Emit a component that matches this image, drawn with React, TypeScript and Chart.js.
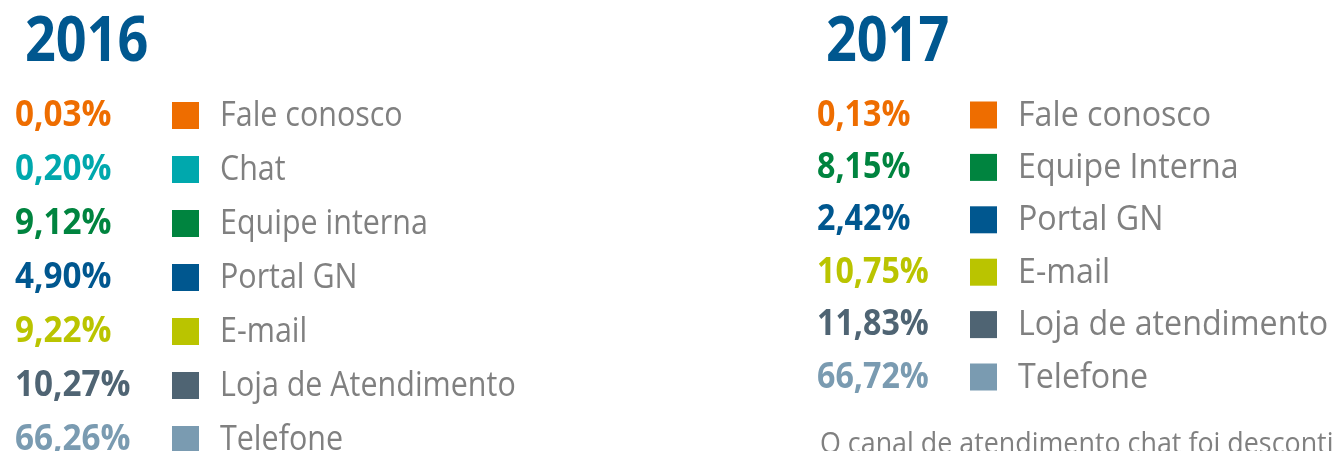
import React, { useEffect, useRef } from "react";
import { Chart, registerables } from "chart.js";

Chart.register(...registerables);

// ---- data ----
const categories2016 = ["Fale conosco", "Chat", "Equipe interna", "Portal GN", "E-mail", "Loja de Atendimento", "Telefone"];
const values2016 = [0.03, 0.2, 9.12, 4.9, 9.22, 10.27, 66.26];
const colors2016 = ["#EE6D00", "#00A8AD", "#00843F", "#00578F", "#BAC400", "#4F6473", "#7A9BB1"];

const categories2017 = ["Fale conosco", "Equipe Interna", "Portal GN", "E-mail", "Loja de atendimento", "Telefone"];
const values2017 = [0.13, 8.15, 2.42, 10.75, 11.83, 66.72];
const colors2017 = ["#EE6D00", "#00843F", "#00578F", "#BAC400", "#4F6473", "#7A9BB1"];

const title2016 = "2016";
const title2017 = "2017";
const note2017 = "O canal de atendimento chat foi descontinuado em 2017.";

const FONT = "'Open Sans', 'Noto Sans', sans-serif";

const fmt = (v: number) => v.toFixed(2).replace(".", ",") + "%";

function drawScaled(ctx: CanvasRenderingContext2D, text: string, x: number, y: number, sx: number) {
  ctx.save();
  ctx.translate(x, y);
  ctx.scale(sx, 1);
  ctx.fillText(text, 0, 0);
  ctx.restore();
}

const legendTablePlugin = {
  id: "legendTable",
  afterDraw(chart: any, _args: any, opts: any) {
    const ctx: CanvasRenderingContext2D = chart.ctx;
    const labels: string[] = chart.data.labels;
    const ds = chart.data.datasets[0];
    const values: number[] = ds.data;
    const colors: string[] = ds.backgroundColor;
    ctx.save();
    ctx.textBaseline = "alphabetic";
    ctx.textAlign = "left";
    // title
    ctx.fillStyle = opts.titleColor;
    ctx.font = `700 ${opts.titleSize}px ${FONT}`;
    drawScaled(ctx, opts.title, opts.titleX, opts.titleBaseline, opts.titleScale);
    // rows
    labels.forEach((lab, i) => {
      const c = opts.rowStart + i * opts.rowStep;
      ctx.fillStyle = colors[i];
      ctx.font = `700 ${opts.pctSize}px ${FONT}`;
      drawScaled(ctx, fmt(values[i]), opts.pctX, c + opts.baseOffset, opts.pctScale);
      ctx.fillRect(opts.boxX, c - opts.boxSize / 2, opts.boxSize, opts.boxSize);
      ctx.fillStyle = opts.labelColor;
      ctx.font = `400 ${opts.labelSize}px ${FONT}`;
      drawScaled(ctx, lab, opts.labelX, c + opts.baseOffset, opts.labelScale);
    });
    if (opts.note) {
      ctx.fillStyle = opts.labelColor;
      ctx.font = `400 ${opts.noteSize}px ${FONT}`;
      drawScaled(ctx, opts.note, opts.noteX, opts.noteBaseline, opts.noteScale);
    }
    ctx.restore();
  },
};

function makeChart(canvas: HTMLCanvasElement, labels: string[], values: number[], colors: string[], tableOpts: any) {
  return new Chart(canvas, {
    type: "doughnut",
    data: {
      labels,
      datasets: [{ data: values, backgroundColor: colors, borderWidth: 0 }],
    },
    options: {
      responsive: false,
      animation: false,
      radius: 0,
      events: [],
      plugins: {
        legend: { display: false },
        tooltip: { enabled: false },
        legendTable: tableOpts,
      } as any,
    } as any,
    plugins: [legendTablePlugin as any],
  });
}

const common = {
  titleColor: "#00578F",
  titleSize: 62,
  titleBaseline: 61,
  titleScale: 0.87,
  pctSize: 35,
  pctScale: 0.95,
  labelSize: 35,
  labelScale: 0.87,
  labelColor: "#808080",
  boxSize: 27,
  baseOffset: 10.5,
  noteSize: 30,
  noteScale: 0.895,
};

export default function App() {
  const leftRef = useRef<HTMLCanvasElement>(null);
  const rightRef = useRef<HTMLCanvasElement>(null);

  useEffect(() => {
    const c1 = makeChart(leftRef.current!, categories2016, values2016, colors2016, {
      ...common,
      title: title2016,
      titleX: 25,
      pctX: 15,
      boxX: 172,
      labelX: 220,
      rowStart: 115.5,
      rowStep: 54,
    });
    const c2 = makeChart(rightRef.current!, categories2017, values2017, colors2017, {
      ...common,
      title: title2017,
      titleX: 36,
      pctX: 27,
      pctScale: 0.92,
      boxX: 180,
      labelX: 228,
      labelScale: 0.92,
      rowStart: 115,
      rowStep: 52.4,
      note: note2017,
      noteX: 30,
      noteBaseline: 453,
    });
    return () => {
      c1.destroy();
      c2.destroy();
    };
  }, []);

  return (
    <div style={{ position: "absolute", left: 0, top: 0, width: 1333, height: 451, background: "#fff", overflow: "hidden" }}>
      <canvas ref={leftRef} width={790} height={451} style={{ position: "absolute", left: 0, top: 0, width: 790, height: 451 }} />
      <canvas ref={rightRef} width={543} height={451} style={{ position: "absolute", left: 790, top: 0, width: 543, height: 451 }} />
    </div>
  );
}
